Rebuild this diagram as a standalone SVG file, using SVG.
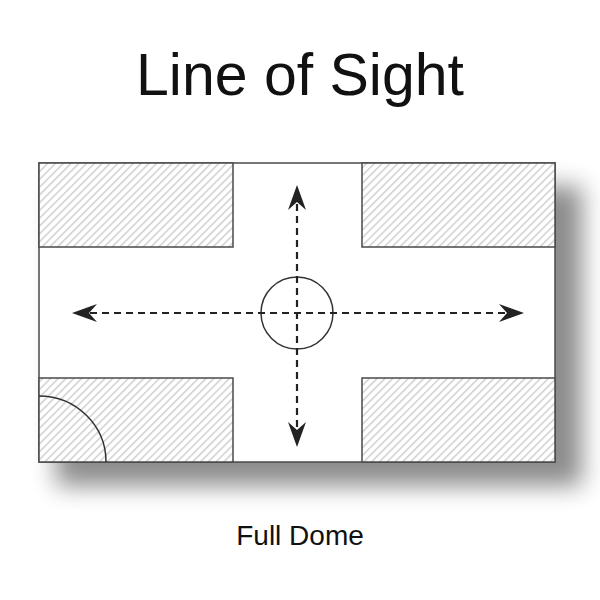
<svg xmlns="http://www.w3.org/2000/svg" width="600" height="600" viewBox="0 0 600 600">
<style>
.title{font-family:"Liberation Sans","Noto Sans",sans-serif;font-size:59px;fill:#111;text-anchor:middle}
.cap{font-family:"Liberation Sans","Noto Sans",sans-serif;font-size:28px;fill:#111;text-anchor:middle}
.block{fill:url(#hatch);stroke:#4a4a4a;stroke-width:1.5}
.dash{stroke:#222;stroke-width:2.2;stroke-dasharray:7 5;fill:none}
.head{fill:#222}
</style>
<defs>
<pattern id="hatch" patternUnits="userSpaceOnUse" width="5.5" height="5.5" patternTransform="rotate(45)">
<rect width="5.5" height="5.5" fill="#fff"/>
<line x1="0.8" y1="0" x2="0.8" y2="5.5" stroke="#c4c4c4" stroke-width="1.2"/>
</pattern>
<filter id="shadow" x="-20%" y="-20%" width="140%" height="150%">
<feGaussianBlur stdDeviation="12"/>
</filter>
</defs>
<rect width="600" height="600" fill="#fff"/>
<text class="title" x="300" y="95">Line of Sight</text>
<g id="shadow-g">
<rect x="56" y="186" width="526" height="300" fill="#000" opacity="0.45" filter="url(#shadow)"/>
</g>
<g id="plan">
<rect x="39" y="163" width="516" height="299" fill="#fff" stroke="#4a4a4a" stroke-width="1.5"/>
<rect id="block-tl" class="block" x="39" y="163" width="194" height="84"/>
<rect id="block-tr" class="block" x="362" y="163" width="193" height="84"/>
<rect id="block-bl" class="block" x="39" y="378" width="194" height="84"/>
<rect id="block-br" class="block" x="362" y="378" width="193" height="84"/>
<path id="dome-arc" d="M39 396 A67 66 0 0 1 106 462" fill="none" stroke="#333" stroke-width="1.5"/>
<circle id="camera" cx="297" cy="313" r="36" fill="none" stroke="#333" stroke-width="1.5"/>
</g>
<g id="connectors">
<line class="dash" x1="90" y1="313" x2="508" y2="313"/>
<line class="dash" x1="297" y1="204" x2="297" y2="430"/>
<path class="head" d="M72 313 L97 304 L89 313 L97 322 Z"/>
<path class="head" d="M524 313 L499 304 L507 313 L499 322 Z"/>
<path class="head" d="M297 185 L288 210 L297 202 L306 210 Z"/>
<path class="head" d="M297 447 L288 422 L297 430 L306 422 Z"/>
</g>
<text class="cap" x="300" y="545">Full Dome</text>
</svg>
